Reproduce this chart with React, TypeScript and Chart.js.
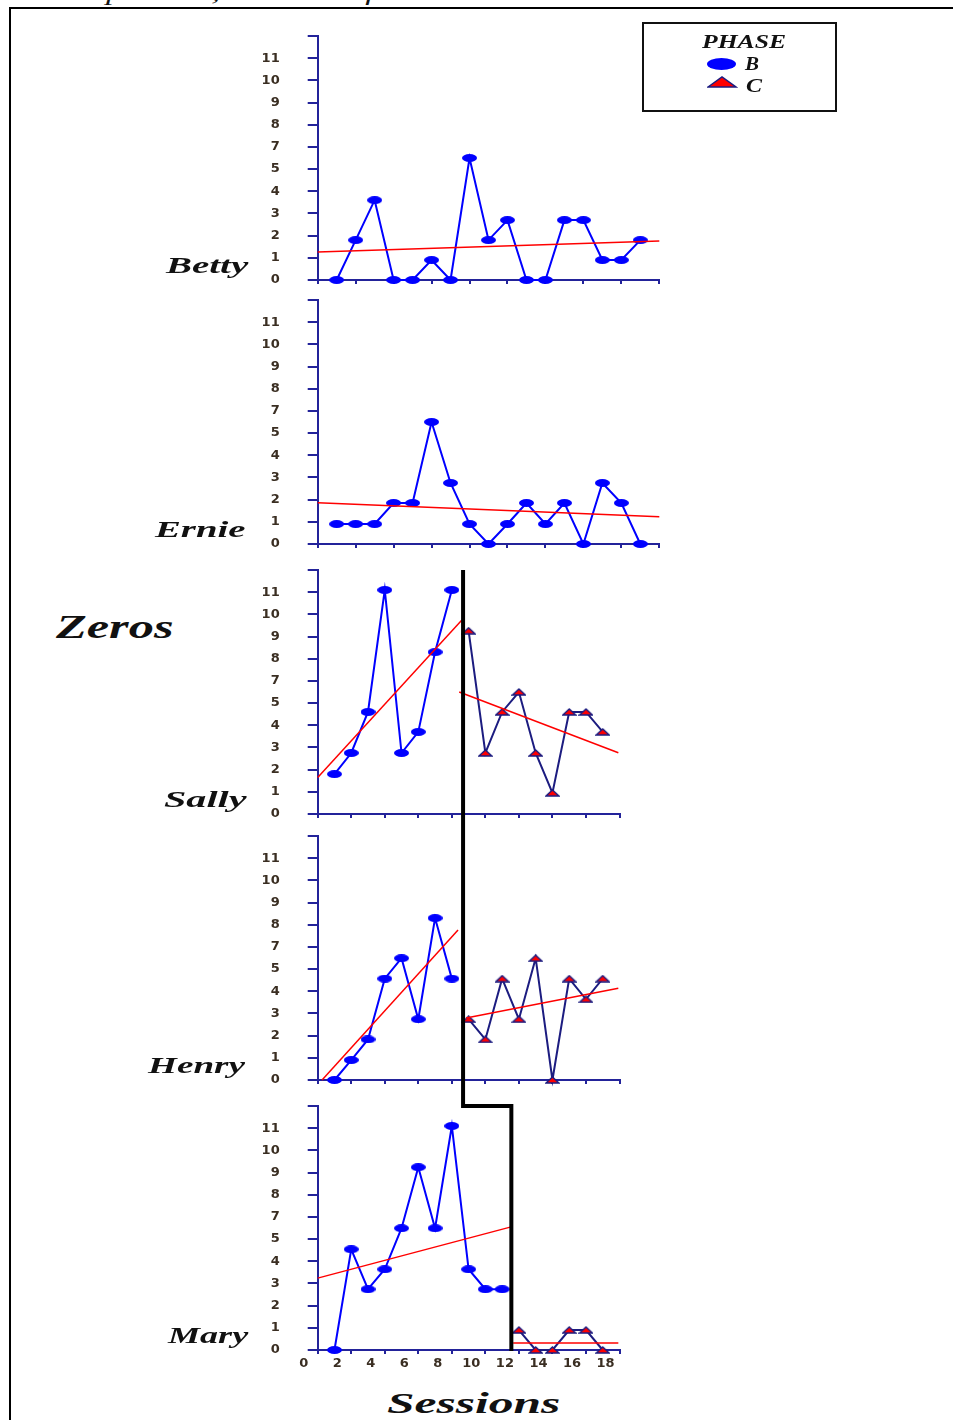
import React, { useEffect, useLayoutEffect, useRef, useState } from "react";
import { Chart, registerables } from "chart.js";

Chart.register(...registerables);

// ---------------- DATA ----------------
const SESSIONS = [1, 2, 3, 4, 5, 6, 7, 8, 9, 10, 11, 12, 13, 14, 15, 16, 17];
const Y_TICK_LABELS = ["0", "1", "2", "3", "4", "5", "7", "8", "9", "10", "11"];
const X_TICK_LABELS = ["0", "2", "4", "6", "8", "10", "12", "14", "16", "18"];

const BETTY_B = [0, 1.8, 3.6, 0, 0, 0.9, 0, 5.5, 1.8, 2.7, 0, 0, 2.7, 2.7, 0.9, 0.9, 1.8];
const BETTY_TREND_X = [0, 18];
const BETTY_TREND_Y = [1.26, 1.76];

const ERNIE_B = [0.9, 0.9, 0.9, 1.85, 1.85, 5.5, 2.75, 0.9, 0, 0.9, 1.85, 0.9, 1.85, 0, 2.75, 1.85, 0];
const ERNIE_TREND_X = [0, 18];
const ERNIE_TREND_Y = [1.86, 1.23];

const SALLY_B = [1.8, 2.75, 4.6, 10.1, 2.75, 3.7, 7.3, 10.1];
const SALLY_C = [8.26, 2.75, 4.6, 5.5, 2.75, 0.95, 4.6, 4.6, 3.7];
const SALLY_B_TREND_X = [0, 8.6];
const SALLY_B_TREND_Y = [1.65, 8.75];
const SALLY_C_TREND_X = [8.44, 17.93];
const SALLY_C_TREND_Y = [5.5, 2.76];

const HENRY_B = [0, 0.9, 1.83, 4.57, 5.49, 2.74, 7.3, 4.57];
const HENRY_C = [2.74, 1.83, 4.57, 2.74, 5.49, 0, 4.57, 3.64, 4.57];
const HENRY_B_TREND_X = [0.26, 8.37];
const HENRY_B_TREND_Y = [0, 6.76];
const HENRY_C_TREND_X = [8.85, 17.93];
const HENRY_C_TREND_Y = [2.8, 4.14];

const MARY_B = [0, 4.54, 2.74, 3.64, 5.49, 8.24, 5.49, 10.1, 3.64, 2.74, 2.74];
const MARY_C = [0.9, 0, 0, 0.9, 0.9, 0];
const MARY_B_TREND_X = [0, 11.48];
const MARY_B_TREND_Y = [3.24, 5.54];
const MARY_C_TREND_X = [11.66, 17.93];
const MARY_C_TREND_Y = [0.32, 0.32];

// phase change positions (session units)
const PHASE_CHANGE_SALLY_HENRY = 8.67;
const PHASE_CHANGE_MARY = 11.55;

// ---------------- STYLE ----------------
const BLUE = "#0000ff";
const NAVY_LINE = "#1c1c80";
const AXIS = "#23239a";
const RED = "#ff0000";
const TICK_COLOR = "#3a2e22";
const TICK_FONT = { family: '"DejaVu Sans", Verdana, sans-serif', size: 13, weight: "bold" as const };

type Panel = {
  name: string;
  bSessions: number[];
  b: number[];
  cSessions: number[];
  c: number[];
  trends: { x: number[]; y: number[] }[];
  canvasTop: number;
  bottomH: number;
  chartRight: number;
  showXLabels: boolean;
  phase: any;
};

const CANVAS_LEFT = 200;
const CHART_LEFT = 317.7;
const CHART_H = 244;
const PAD_TOP = 10;

const PANELS: Panel[] = [
  {
    name: "Betty",
    bSessions: SESSIONS, b: BETTY_B, cSessions: [], c: [],
    trends: [{ x: BETTY_TREND_X, y: BETTY_TREND_Y }],
    canvasTop: 26, bottomH: 12, chartRight: 659.3, showXLabels: false, phase: {},
  },
  {
    name: "Ernie",
    bSessions: SESSIONS, b: ERNIE_B, cSessions: [], c: [],
    trends: [{ x: ERNIE_TREND_X, y: ERNIE_TREND_Y }],
    canvasTop: 290, bottomH: 12, chartRight: 659.3, showXLabels: false, phase: {},
  },
  {
    name: "Sally",
    bSessions: SESSIONS.slice(0, 8), b: SALLY_B, cSessions: SESSIONS.slice(8), c: SALLY_C,
    trends: [{ x: SALLY_B_TREND_X, y: SALLY_B_TREND_Y }, { x: SALLY_C_TREND_X, y: SALLY_C_TREND_Y }],
    canvasTop: 560, bottomH: 12, chartRight: 619.5, showXLabels: false,
    phase: { mode: "start", x1: PHASE_CHANGE_SALLY_HENRY },
  },
  {
    name: "Henry",
    bSessions: SESSIONS.slice(0, 8), b: HENRY_B, cSessions: SESSIONS.slice(8), c: HENRY_C,
    trends: [{ x: HENRY_B_TREND_X, y: HENRY_B_TREND_Y }, { x: HENRY_C_TREND_X, y: HENRY_C_TREND_Y }],
    canvasTop: 826, bottomH: 16, chartRight: 619.5, showXLabels: false,
    phase: { mode: "through", x1: PHASE_CHANGE_SALLY_HENRY },
  },
  {
    name: "Mary",
    bSessions: SESSIONS.slice(0, 11), b: MARY_B, cSessions: SESSIONS.slice(11), c: MARY_C,
    trends: [{ x: MARY_B_TREND_X, y: MARY_B_TREND_Y }, { x: MARY_C_TREND_X, y: MARY_C_TREND_Y }],
    canvasTop: 1096, bottomH: 30, chartRight: 619.5, showXLabels: true,
    phase: { mode: "step", x1: PHASE_CHANGE_SALLY_HENRY, x2: PHASE_CHANGE_MARY },
  },
];

const phasePlugin = {
  id: "phaseLine",
  afterDatasetsDraw(chart: any, _args: any, opts: any) {
    if (!opts || !opts.mode) return;
    const { ctx, chartArea } = chart;
    const xs = chart.scales.x;
    const x1 = xs.getPixelForValue(opts.x1);
    ctx.save();
    ctx.strokeStyle = "#000";
    ctx.lineWidth = 4;
    ctx.lineJoin = "miter";
    ctx.beginPath();
    if (opts.mode === "start") {
      ctx.moveTo(x1, chartArea.top);
      ctx.lineTo(x1, chart.height);
    } else if (opts.mode === "through") {
      ctx.moveTo(x1, 0);
      ctx.lineTo(x1, chart.height);
    } else if (opts.mode === "step") {
      const x2 = xs.getPixelForValue(opts.x2);
      ctx.moveTo(x1, 0);
      ctx.lineTo(x1, chartArea.top);
      ctx.lineTo(x2, chartArea.top);
      ctx.lineTo(x2, chartArea.bottom + 1);
    }
    ctx.stroke();
    ctx.restore();
  },
};

function makeEllipse(w: number, h: number) {
  const c = document.createElement("canvas");
  c.width = w;
  c.height = h;
  const g = c.getContext("2d")!;
  g.fillStyle = BLUE;
  g.beginPath();
  g.ellipse(w / 2, h / 2, w / 2, h / 2, 0, 0, Math.PI * 2);
  g.fill();
  return c;
}

function makeTriangle(w: number, h: number) {
  const c = document.createElement("canvas");
  c.width = w;
  c.height = h;
  const g = c.getContext("2d")!;
  g.fillStyle = RED;
  g.strokeStyle = NAVY_LINE;
  g.lineWidth = 1.3;
  g.beginPath();
  g.moveTo(1, h - 1);
  g.lineTo(w / 2, 1);
  g.lineTo(w - 1, h - 1);
  g.closePath();
  g.fill();
  g.stroke();
  return c;
}

function PanelChart({ p }: { p: Panel }) {
  const ref = useRef<HTMLCanvasElement>(null);
  const width = 440 + (p.chartRight > 640 ? 40 : 0);
  const height = PAD_TOP + CHART_H + p.bottomH;
  useEffect(() => {
    const ellipse = makeEllipse(15, 8);
    const tri = makeTriangle(15, 8);
    const datasets: any[] = [];
    p.trends.forEach((t) => {
      datasets.push({
        data: t.x.map((x, i) => ({ x, y: t.y[i] })),
        borderColor: RED,
        borderWidth: 1.5,
        pointRadius: 0,
        fill: false,
        tension: 0,
        clip: false,
      });
    });
    datasets.push({
      data: p.bSessions.map((s, i) => ({ x: s, y: p.b[i] })),
      borderColor: BLUE,
      backgroundColor: BLUE,
      borderWidth: 2,
      pointStyle: ellipse,
      pointRadius: 6,
      fill: false,
      tension: 0,
      clip: false,
    });
    if (p.c.length) {
      datasets.push({
        data: p.cSessions.map((s, i) => ({ x: s, y: p.c[i] })),
        borderColor: NAVY_LINE,
        backgroundColor: RED,
        borderWidth: 2,
        pointStyle: tri,
        pointRadius: 6,
        fill: false,
        tension: 0,
        clip: false,
      });
    }
    const padRight = width - (p.chartRight - CANVAS_LEFT);
    const chart = new Chart(ref.current!, {
      type: "line",
      data: { datasets },
      plugins: [phasePlugin as any],
      options: {
        responsive: false,
        animation: false,
        events: [],
        devicePixelRatio: 1,
        layout: { padding: { left: 0, right: padRight, top: PAD_TOP, bottom: 0 } },
        plugins: {
          legend: { display: false },
          tooltip: { enabled: false },
          phaseLine: p.phase,
        } as any,
        scales: {
          x: {
            type: "linear",
            min: 0,
            max: 18,
            afterFit: (s: any) => {
              s.height = p.bottomH;
              s.paddingLeft = 0;
              s.paddingRight = 0;
            },
            border: { display: true, color: AXIS, width: 2 },
            grid: { display: true, drawOnChartArea: false, drawTicks: true, tickLength: 4, color: AXIS, lineWidth: 2 },
            ticks: {
              stepSize: 2,
              autoSkip: false,
              maxRotation: 0,
              display: p.showXLabels,
              labelOffset: -14,
              padding: 2,
              font: TICK_FONT,
              color: TICK_COLOR,
              callback: (v: any) => X_TICK_LABELS[Math.round(Number(v) / 2)] ?? "",
            },
          },
          y: {
            type: "linear",
            min: 0,
            max: 11,
            afterFit: (s: any) => {
              s.width = CHART_LEFT - CANVAS_LEFT;
              s.paddingTop = 0;
              s.paddingBottom = 0;
            },
            border: { display: true, color: AXIS, width: 2 },
            grid: { display: true, drawOnChartArea: false, drawTicks: true, tickLength: 10, color: AXIS, lineWidth: 2 },
            ticks: {
              stepSize: 1,
              autoSkip: false,
              padding: 28,
              font: TICK_FONT,
              color: TICK_COLOR,
              callback: (v: any) => Y_TICK_LABELS[Math.round(Number(v))] ?? "",
            },
          },
        } as any,
      },
    });
    return () => chart.destroy();
  }, []);
  return (
    <canvas
      ref={ref}
      width={width}
      height={height}
      style={{ position: "absolute", left: CANVAS_LEFT, top: p.canvasTop, width, height }}
    />
  );
}

function FitText({
  text, left, baseline, width, size, bold = true, italic = true,
}: { text: string; left: number; baseline: number; width: number; size: number; bold?: boolean; italic?: boolean }) {
  const ref = useRef<HTMLSpanElement>(null);
  const [scale, setScale] = useState(1);
  useLayoutEffect(() => {
    const w = ref.current ? ref.current.offsetWidth : 0;
    if (w > 0) setScale(width / w);
  }, [text, width]);
  return (
    <span
      ref={ref}
      style={{
        position: "absolute",
        left,
        top: baseline - 0.8375 * size,
        fontFamily: '"Liberation Serif", "Times New Roman", serif',
        fontSize: size,
        lineHeight: `${size}px`,
        fontWeight: bold ? 700 : 400,
        fontStyle: italic ? "italic" : "normal",
        whiteSpace: "nowrap",
        transform: `scaleX(${scale})`,
        transformOrigin: "0 0",
        color: "#111",
      }}
    >
      {text}
    </span>
  );
}

const NAME_LABELS = [
  { text: "Betty", left: 166, baseline: 273, width: 83 },
  { text: "Ernie", left: 155, baseline: 537, width: 91 },
  { text: "Sally", left: 164, baseline: 807, width: 82 },
  { text: "Henry", left: 148, baseline: 1073, width: 97 },
  { text: "Mary", left: 168, baseline: 1343, width: 80 },
];

export default function App() {
  return (
    <div
      style={{
        position: "absolute",
        left: 0,
        top: 0,
        width: 953,
        height: 1420,
        overflow: "hidden",
        background: "#fff",
      }}
    >
      <FitText text="tal Competition, Number of Zeros" left={-4} baseline={0} width={465} size={22} bold={false} />
      <div
        style={{
          position: "absolute",
          left: 9,
          top: 7,
          width: 944,
          height: 1413,
          boxSizing: "border-box",
          borderTop: "2px solid #000",
          borderLeft: "2px solid #000",
        }}
      />
      {PANELS.map((p) => (
        <PanelChart key={p.name} p={p} />
      ))}
      {NAME_LABELS.map((n) => (
        <FitText key={n.text} text={n.text} left={n.left} baseline={n.baseline} width={n.width} size={23} />
      ))}
      <FitText text="Zeros" left={56} baseline={638} width={117} size={34} />
      <FitText text="Sessions" left={387} baseline={1413} width={174} size={29} />
      <div
        style={{
          position: "absolute",
          left: 642,
          top: 22,
          width: 195,
          height: 90,
          boxSizing: "border-box",
          border: "2px solid #111",
        }}
      />
      <FitText text="PHASE" left={702} baseline={48} width={84} size={18} />
      <div
        style={{
          position: "absolute",
          left: 707,
          top: 58,
          width: 29,
          height: 12,
          borderRadius: "50%",
          background: BLUE,
        }}
      />
      <FitText text="B" left={745} baseline={70} width={14} size={18} />
      <svg style={{ position: "absolute", left: 707, top: 76 }} width={31} height={12}>
        <polygon points="1,11 15,1 29,11" fill={RED} stroke={NAVY_LINE} strokeWidth={1.5} />
      </svg>
      <FitText text="C" left={746} baseline={92} width={16} size={18} />
    </div>
  );
}
